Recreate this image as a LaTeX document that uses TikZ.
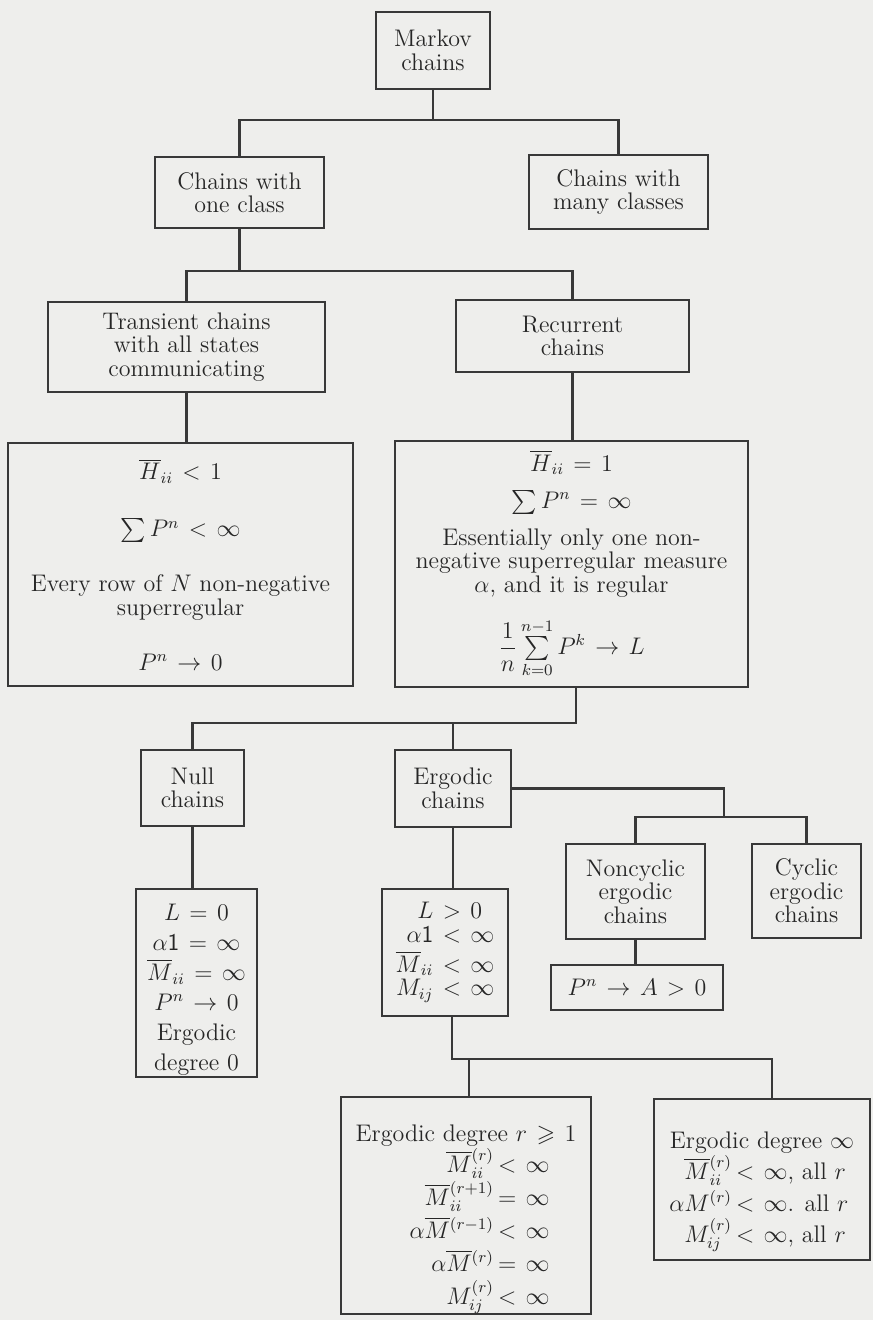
\documentclass[tikz,border=0pt]{standalone}
\usepackage{amsmath,amssymb}
\definecolor{bg}{HTML}{EEEEEC}
\definecolor{linec}{HTML}{383838}
\definecolor{txt}{HTML}{262626}
\tikzset{
  box/.style={draw=linec, line width=0.9pt, inner sep=0pt, align=center, text=txt,
    font=\fontsize{12}{11.75}\selectfont},
  conn/.style={draw=linec, line width=1.4pt, line join=miter},
}
\newcommand{\lrow}[4]{\makebox[#1][r]{$#3$}\makebox[#2][l]{#4}}
\begin{document}
\thickmuskip=7mu plus 2mu\relax
\begin{tikzpicture}[x=0.5pt,y=-0.5pt]
\fill[bg] (0,0) rectangle (873,1320);
\useasboundingbox (0,0) rectangle (873,1320);

% nodes
\node[box, minimum width=57pt, minimum height=38.5pt] (markov) at (433,50.5) {Markov\\chains};
\node[box, minimum width=84.5pt, minimum height=35.5pt] (one) at (239.5,192.5) {Chains with\\one class};
\node[box, minimum width=89.5pt, minimum height=37pt] (many) at (618.5,192) {Chains with\\many classes};
\node[box, minimum width=138.5pt, minimum height=45pt] (trans) at (186.5,347) {Transient chains\\with all states\\communicating};
\node[box, minimum width=116.5pt, minimum height=36pt] (recur) at (572.5,336) {Recurrent\\chains};
\node[box, minimum width=172.5pt, minimum height=121.5pt] (tprops) at (180.5,564.5)
  {$\overline{H}_{ii} < 1$\\[16.75pt]
   $\sum P^n < \infty$\\[15.75pt]
   Every row of $N$ non-negative\\
   superregular\\[15.75pt]
   $P^n \rightarrow 0$};
\node[box, minimum width=176.5pt, minimum height=123pt] (rprops) at (571.5,564)
  {$\overline{H}_{ii} = 1$\\[6.75pt]
   $\sum P^n = \infty$\\[6.75pt]
   Essentially only one non-\\
   negative superregular measure\\
   $\alpha$, and it is regular\\[10pt]
   $\dfrac{1}{n}\sum\limits_{k=0}^{n-1} P^k \rightarrow L$};
\node[box, minimum width=51.5pt, minimum height=38pt] (null) at (192.5,788) {Null\\chains};
\node[box, minimum width=58pt, minimum height=38.5pt] (ergo) at (453,788.5) {Ergodic\\chains};
\node[box, minimum width=60.5pt, minimum height=94pt] (nprops) at (196.5,983)
  {\rule{0pt}{15pt}$L = 0$\\[3.25pt]
   $\alpha\mathsf{1} = \infty$\\[3.25pt]
   $\overline{M}_{ii} = \infty$\\[3.25pt]
   $P^n \rightarrow 0$\\[3.25pt]
   Ergodic\\[3.25pt]
   degree 0};
\node[box, minimum width=63pt, minimum height=63.5pt] (eprops) at (445,952.5)
  {$\setlength\jot{0pt}\begin{aligned}
     L &> 0\\
     \alpha\mathsf{1} &< \infty\\
     \overline{M}_{ii} &< \infty\\
     M_{ij} &< \infty
   \end{aligned}$};
\node[box, minimum width=69.5pt, minimum height=47.5pt] (noncyc) at (635.5,891.5) {Noncyclic\\ergodic\\chains};
\node[box, minimum width=54.5pt, minimum height=47pt] (cyc) at (806.5,891) {Cyclic\\ergodic\\chains};
\node[box, minimum width=86pt, minimum height=22.5pt] (pna) at (637,987.5) {$P^n \rightarrow A > 0$};
\node[box, minimum width=125pt, minimum height=106.5pt, font=\fontsize{12}{16.5}\selectfont] (degr) at (466,1205.5)
  {\rule{0pt}{22pt}Ergodic degree $r \geqslant 1$\\[-1pt]
   \lrow{50pt}{22pt}{\overline{M}{}^{(r)}_{ii}}{$\,{<}\;\infty$}\\
   \lrow{50pt}{22pt}{\overline{M}{}^{(r+1)}_{ii}}{$\,{=}\;\infty$}\\
   \lrow{50pt}{22pt}{\alpha\overline{M}{}^{(r-1)}}{$\,{<}\;\infty$}\\
   \lrow{50pt}{22pt}{\alpha\overline{M}{}^{(r)}}{$\,{=}\;\infty$}\\
   \lrow{50pt}{22pt}{M^{(r)}_{ij}}{$\,{<}\;\infty$}};
\node[box, minimum width=108pt, minimum height=80.5pt, font=\fontsize{12}{15.75}\selectfont] (deginf) at (762,1179.5)
  {\rule{0pt}{20.5pt}Ergodic degree $\infty$\\
   \lrow{28pt}{58pt}{\overline{M}{}^{(r)}_{ii}}{$\,{<}\;\infty$, all $r$}\\
   \lrow{28pt}{58pt}{\alpha M^{(r)}}{$\,{<}\;\infty$. all $r$}\\
   \lrow{28pt}{58pt}{M^{(r)}_{ij}}{$\,{<}\;\infty$, all $r$}};

% junction coordinates
\coordinate (b1) at (433,120);
\coordinate (b2) at (239.5,271);
\coordinate (b3r) at (576,723);
\coordinate (b3) at (192.5,723);
\coordinate (b4) at (724,817);
\coordinate (b5l) at (452,1059);
\coordinate (b5a) at (469,1059);
\coordinate (b5b) at (772,1059);

% connectors
\draw[conn] (markov.south) -- (b1);
\draw[conn] (one.north) |- (b1) -| (many.north);
\draw[conn] (one.south) -- (b2);
\draw[conn] (trans.north) |- (b2) -| (recur.north);
\draw[conn] (trans.south) -- (trans.south |- tprops.north);
\draw[conn] (recur.south) -- (recur.south |- rprops.north);
\draw[conn] (b3r |- rprops.south) -- (b3r) -- (b3) -- (null.north);
\draw[conn] (ergo.north) -- (ergo.north |- b3);
\draw[conn] (null.south) -- (null.south |- nprops.north);
\draw[conn] (ergo.south) -- (ergo.south |- eprops.north);
\draw[conn] (ergo.east) -| (b4);
\draw[conn] (noncyc.north) |- (b4) -| (cyc.north);
\draw[conn] (noncyc.south) -- (noncyc.south |- pna.north);
\draw[conn] (b5l |- eprops.south) -- (b5l) -- (b5b) -- (b5b |- deginf.north);
\draw[conn] (b5a) -- (b5a |- degr.north);
\end{tikzpicture}
\end{document}
